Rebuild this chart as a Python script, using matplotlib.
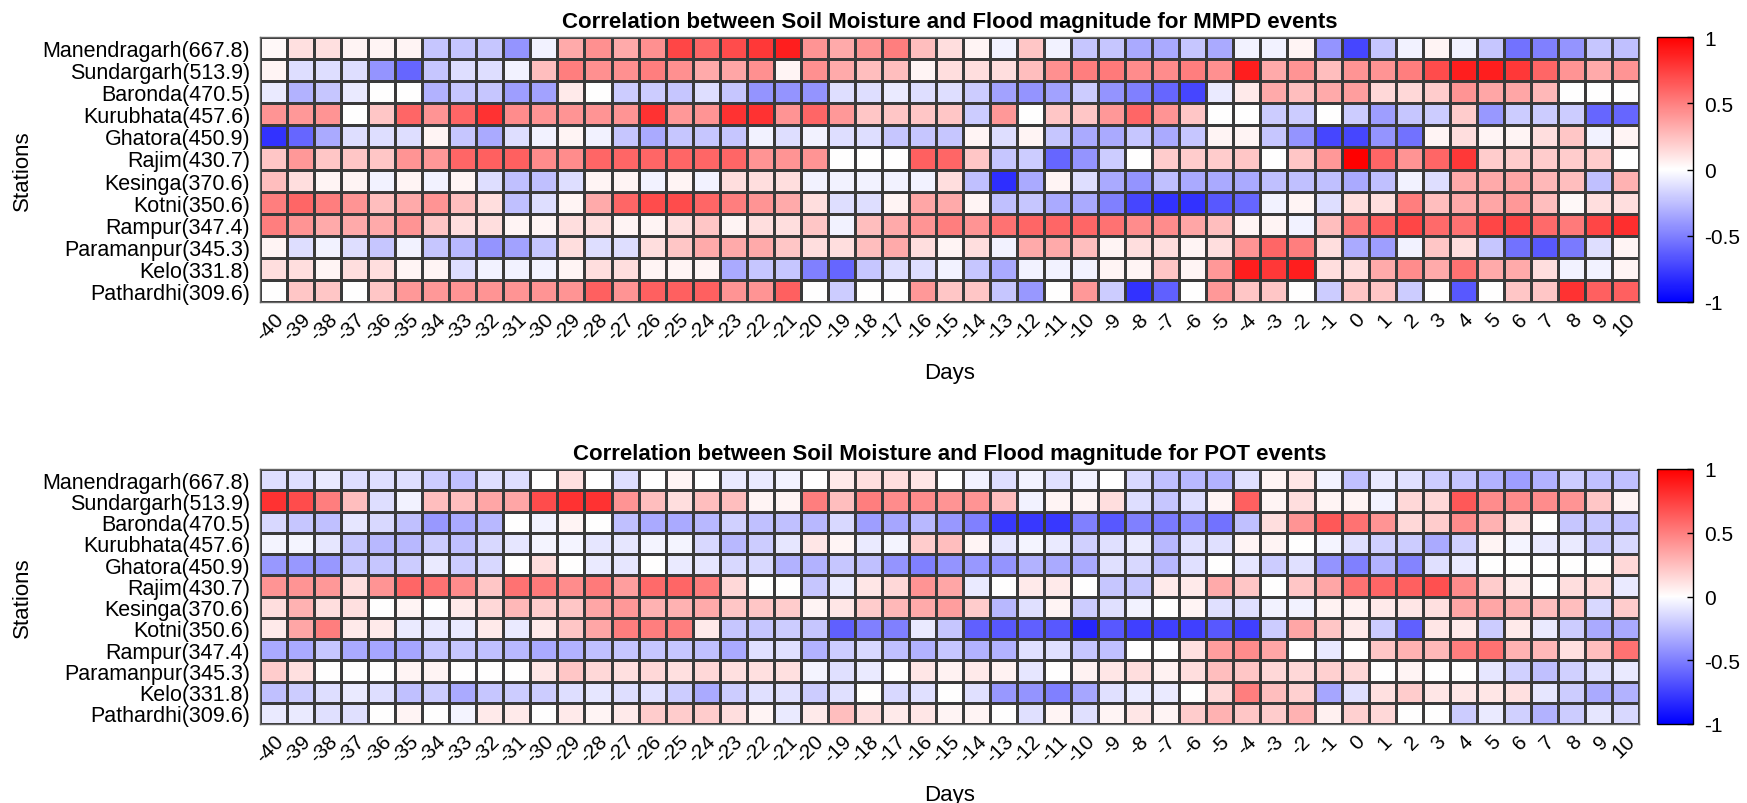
import numpy as np
import matplotlib
matplotlib.use("Agg")
import matplotlib.pyplot as plt

plt.rcParams['font.family'] = ['Liberation Sans', 'DejaVu Sans']

stations = ["Manendragarh(667.8)", "Sundargarh(513.9)", "Baronda(470.5)", "Kurubhata(457.6)",
            "Ghatora(450.9)", "Rajim(430.7)", "Kesinga(370.6)", "Kotni(350.6)",
            "Rampur(347.4)", "Paramanpur(345.3)", "Kelo(331.8)", "Pathardhi(309.6)"]
days = list(range(-40, 11))

# ---- MMPD events (columns: day -40 ... 10) ----
mmpd_manendragarh = [0.03, 0.12, 0.12, 0.04, 0.04, 0.04, -0.22, -0.22, -0.22, -0.42, -0.05, 0.33, 0.43, 0.33, 0.43,
                     0.72, 0.6, 0.7, 0.78, 0.88, 0.42, 0.33, 0.42, 0.5, 0.25, 0.13, 0.04, -0.05, 0.22, -0.05,
                     -0.22, -0.22, -0.33, -0.33, -0.22, -0.33, -0.05, -0.05, 0.04, -0.42, -0.72,
                     -0.22, -0.05, 0.04, -0.05, -0.22, -0.55, -0.5, -0.42, -0.22, -0.25]
mmpd_sundargarh = [0.04, -0.13, -0.13, -0.13, -0.42, -0.6, -0.22, -0.13, -0.13, -0.05, 0.25, 0.5, 0.43, 0.43, 0.5,
                   0.43, 0.33, 0.35, 0.43, 0.04, 0.43, 0.33, 0.25, 0.25, 0.04, 0.13, 0.13, 0.13, 0.25, 0.43,
                   0.5, 0.52, 0.45, 0.45, 0.5, 0.43, 0.88, 0.33, 0.42, 0.25, 0.42,
                   0.42, 0.5, 0.7, 0.88, 0.88, 0.78, 0.6, 0.42, 0.33, 0.42]
mmpd_baronda = [-0.08, -0.3, -0.22, -0.08, 0, 0, -0.3, -0.22, -0.22, -0.38, -0.36, 0.08, 0, -0.2, -0.2,
                -0.22, -0.13, -0.22, -0.42, -0.42, -0.42, -0.13, -0.13, -0.08, -0.13, -0.13, -0.2, -0.36, -0.42, -0.36,
                -0.2, -0.42, -0.5, -0.6, -0.72, -0.08, 0.08, 0.33, 0.25, 0.33, 0.38,
                0.15, 0.15, 0.2, 0.42, 0.35, 0.35, 0.28, 0, 0, 0]
mmpd_kurubhata = [0.42, 0.4, 0.42, 0, 0.22, 0.6, 0.42, 0.6, 0.8, 0.45, 0.42, 0.42, 0.42, 0.42, 0.8,
                  0.4, 0.42, 0.8, 0.8, 0.42, 0.6, 0.4, 0.22, 0.22, 0.22, 0.22, -0.2, 0.4, 0, 0.22,
                  0.22, 0.4, 0.6, 0.42, 0.22, 0, 0, -0.2, -0.2, 0, -0.2,
                  -0.38, -0.22, -0.2, 0.2, -0.4, -0.2, -0.2, -0.2, -0.6, -0.6]
mmpd_ghatora = [-0.8, -0.6, -0.33, -0.13, -0.13, -0.13, 0.04, -0.22, -0.33, -0.13, -0.05, 0.04, -0.05, -0.22, -0.33,
                -0.22, -0.22, -0.22, -0.05, -0.13, -0.05, -0.13, -0.13, -0.22, -0.22, -0.22, 0.04, -0.13, 0.04, -0.22,
                -0.33, -0.33, -0.22, -0.33, -0.22, 0.04, 0.04, -0.22, -0.42, -0.72, -0.72,
                -0.42, -0.55, 0.04, 0.13, 0.04, 0.04, 0.13, 0.22, -0.05, 0.04]
mmpd_rajim = [0.22, 0.4, 0.22, 0.22, 0.22, 0.42, 0.4, 0.6, 0.62, 0.62, 0.45, 0.45, 0.6, 0.6, 0.6,
              0.6, 0.6, 0.6, 0.42, 0.42, 0.42, 0, 0, 0, 0.62, 0.6, 0.22, -0.22, -0.2, -0.6,
              -0.42, -0.2, 0, 0.2, 0.2, 0.2, 0.22, 0, 0.22, 0.4, 1.0,
              0.6, 0.42, 0.6, 0.78, 0.2, 0.2, 0.2, 0.2, 0.2, 0]
mmpd_kesinga = [0.25, 0.13, 0.04, 0.04, -0.05, 0.04, -0.05, 0.04, -0.13, -0.25, -0.25, -0.13, 0.04, 0.04, -0.05,
                0.04, -0.05, 0.13, 0.13, 0.13, -0.05, -0.05, -0.05, -0.05, -0.05, 0.13, -0.25, -0.82, -0.33, 0.04,
                -0.13, -0.33, -0.42, -0.25, -0.33, -0.33, -0.33, -0.25, -0.25, -0.25, -0.33,
                -0.25, -0.05, -0.13, 0.33, 0.33, 0.35, 0.28, 0.25, -0.25, 0.3]
mmpd_kotni = [0.5, 0.6, 0.5, 0.42, 0.25, 0.33, 0.42, 0.25, 0.13, -0.25, -0.13, 0.04, 0.33, 0.6, 0.7,
              0.7, 0.6, 0.5, 0.42, 0.33, 0.13, -0.13, -0.13, 0.04, 0.35, 0.33, 0.04, -0.25, -0.22, -0.33,
              -0.33, -0.5, -0.72, -0.8, -0.8, -0.65, -0.6, -0.05, 0.04, -0.13, 0.13,
              0.13, 0.5, 0.25, 0.33, 0.35, 0.4, 0.25, 0.03, 0.13, 0.13]
mmpd_rampur = [0.5, 0.42, 0.33, 0.33, 0.33, 0.42, 0.22, 0.13, 0.13, 0.04, 0.04, 0.13, 0.13, 0.04, 0.04,
               0.13, 0.22, 0.04, 0.13, 0.13, 0.22, -0.05, 0.25, 0.33, 0.42, 0.5, 0.42, 0.55, 0.6, 0.6,
               0.6, 0.55, 0.45, 0.45, 0.35, 0.25, 0.04, 0.04, -0.05, 0.25, 0.52,
               0.62, 0.72, 0.58, 0.55, 0.72, 0.72, 0.58, 0.52, 0.72, 0.82]
mmpd_paramanpur = [0.04, -0.13, -0.05, -0.13, -0.22, -0.05, -0.22, -0.28, -0.42, -0.36, -0.22, 0.13, -0.13, -0.13, 0.13,
                   0.22, 0.33, 0.33, 0.33, 0.22, 0.13, 0.13, 0.25, 0.33, 0.13, 0.04, 0.13, -0.05, 0.33, 0.33,
                   0.25, 0.04, 0.13, 0.13, 0.04, 0.13, 0.42, 0.6, 0.5, 0.13, -0.33,
                   -0.38, -0.05, 0.22, 0.13, -0.22, -0.55, -0.65, -0.52, -0.13, 0.04]
mmpd_kelo = [0.13, 0.13, 0.04, 0.13, 0.13, 0.04, 0.04, -0.13, -0.05, -0.05, -0.05, 0.04, 0.13, 0.13, 0.04,
             0.04, 0.04, -0.33, -0.22, -0.22, -0.5, -0.6, -0.22, -0.13, -0.13, -0.05, -0.22, -0.33, -0.05, -0.05,
             -0.05, 0.04, 0.04, 0.22, 0.04, 0.4, 0.88, 0.78, 0.88, 0.13, 0.13,
             0.33, 0.45, 0.33, 0.55, 0.33, 0.33, 0.13, -0.05, -0.05, 0.04]
mmpd_pathardhi = [0, 0.22, 0.22, 0, 0.22, 0.4, 0.4, 0.42, 0.42, 0.42, 0.42, 0.42, 0.62, 0.42, 0.62,
                  0.62, 0.62, 0.42, 0.42, 0.62, 0, -0.2, 0, 0, 0.4, 0.22, 0.22, -0.22, -0.4, 0,
                  0.4, -0.2, -0.8, -0.62, 0, 0.4, 0.22, 0.22, 0, -0.2, 0.22,
                  0.22, -0.2, 0, -0.65, 0, 0.22, 0.22, 0.8, 0.62, 0.62]

# ---- POT events (columns: day -40 ... 10) ----
pot_manendragarh = [-0.13, -0.13, -0.08, -0.13, -0.13, -0.13, -0.2, -0.25, -0.13, -0.13, 0, 0.12, 0, -0.13, 0,
                    0.04, 0, -0.08, -0.08, -0.05, 0, 0.08, 0.13, 0.13, 0.1, 0, -0.05, -0.13, -0.05, -0.12,
                    -0.05, 0, -0.15, -0.25, -0.28, -0.3, -0.12, 0.04, 0.1, -0.05, -0.25,
                    -0.08, -0.12, -0.2, -0.22, -0.3, -0.38, -0.3, -0.2, -0.25, -0.25]
pot_sundargarh = [0.8, 0.7, 0.5, 0.25, -0.13, -0.05, 0.25, 0.25, 0.35, 0.35, 0.7, 0.8, 0.8, 0.42, 0.25,
                  0.13, 0.25, 0.25, 0.04, 0.04, 0.5, 0.25, 0.5, 0.45, 0.45, 0.42, 0.42, 0.25, -0.05, 0.04,
                  0.04, 0.13, -0.13, -0.22, -0.13, 0.04, 0.62, 0.04, 0.13, 0.04, 0.04,
                  -0.05, 0.15, 0.15, 0.65, 0.45, 0.45, 0.45, 0.42, 0.22, 0.04]
pot_baronda = [-0.15, -0.22, -0.25, -0.1, -0.15, -0.25, -0.4, -0.33, -0.28, 0, -0.05, 0.04, 0, -0.25, -0.33,
               -0.33, -0.28, -0.18, -0.25, -0.25, -0.28, -0.15, -0.38, -0.35, -0.28, -0.4, -0.5, -0.78, -0.78, -0.78,
               -0.5, -0.65, -0.5, -0.52, -0.45, -0.55, -0.25, 0.13, 0.42, 0.65, 0.55,
               0.42, 0.15, 0.2, 0.45, 0.3, 0.12, 0, -0.22, -0.22, -0.25]
pot_kurubhata = [-0.04, -0.04, -0.1, -0.22, -0.28, -0.28, -0.2, -0.25, -0.15, -0.1, -0.04, -0.04, -0.1, -0.1, -0.04,
                 -0.04, -0.15, -0.28, -0.2, -0.1, 0.1, 0.04, -0.08, -0.04, 0.2, 0.25, 0.04, -0.1, -0.04, -0.08,
                 -0.18, -0.12, -0.08, -0.28, -0.12, -0.12, 0.04, 0.04, 0, -0.04, -0.12,
                 -0.18, -0.2, -0.33, -0.18, 0.04, -0.04, -0.08, -0.08, -0.2, -0.15]
pot_ghatora = [-0.4, -0.4, -0.4, -0.22, -0.22, -0.2, -0.08, -0.2, -0.15, 0, 0.13, 0, -0.08, -0.1, 0,
               -0.08, -0.1, -0.15, -0.15, -0.3, -0.3, -0.22, -0.25, -0.42, -0.5, -0.42, -0.4, -0.42, -0.3, -0.33,
               -0.33, -0.12, -0.15, -0.28, -0.12, 0, -0.1, -0.2, -0.12, -0.42, -0.5,
               -0.3, -0.48, -0.12, -0.08, 0, 0, 0, 0, 0, 0.15]
pot_rajim = [0.42, 0.42, 0.4, 0.13, 0.42, 0.6, 0.55, 0.45, 0.22, 0.55, 0.52, 0.45, 0.52, 0.38, 0.58,
             0.6, 0.5, 0.15, 0, 0, -0.22, -0.08, 0.1, 0.15, 0.42, 0.35, -0.08, 0, 0.08, 0.08,
             0, -0.22, -0.22, 0.08, 0.08, 0.33, 0.22, 0, 0.22, 0.35, 0.55,
             0.6, 0.62, 0.68, 0.45, 0.2, 0.08, 0, 0.13, 0.15, -0.08]
pot_kesinga = [0.13, 0.3, 0.13, 0.12, 0, 0.04, 0, 0.08, 0.15, 0.28, 0.2, 0.22, 0.35, 0.4, 0.3,
               0.3, 0.33, 0.22, 0.22, 0.2, 0.04, 0.1, 0.2, 0.28, 0.33, 0.38, 0.2, -0.28, -0.12, 0.04,
               -0.2, -0.12, -0.05, 0, 0.04, -0.12, -0.12, -0.05, -0.05, 0.05, 0.05,
               0.08, 0.1, 0.12, 0.35, 0.35, 0.3, 0.25, 0.25, -0.15, 0.2]
pot_kotni = [0.08, 0.35, 0.5, 0.08, 0.08, -0.08, -0.08, -0.08, 0.08, -0.08, 0.08, 0.22, 0.35, 0.5, 0.5,
             0.5, 0.08, -0.22, -0.22, -0.2, -0.22, -0.62, -0.5, -0.5, -0.08, -0.22, -0.62, -0.65, -0.62, -0.65,
             -0.85, -0.65, -0.75, -0.75, -0.75, -0.65, -0.75, -0.2, 0.35, 0.22, 0.08,
             -0.2, -0.62, 0.1, 0.08, -0.2, 0.08, -0.08, -0.2, -0.33, -0.33]
pot_rampur = [-0.33, -0.33, -0.22, -0.33, -0.35, -0.35, -0.22, -0.22, -0.25, -0.28, -0.33, -0.3, -0.25, -0.22, -0.22,
              -0.22, -0.25, -0.33, -0.12, -0.12, -0.3, -0.2, -0.15, -0.25, -0.3, -0.22, -0.3, -0.3, -0.12, -0.12,
              -0.22, -0.25, 0, 0, 0.12, 0.38, 0.45, 0.35, 0, -0.08, 0,
              0.22, 0.3, 0.28, 0.5, 0.55, 0.3, 0.28, 0.12, 0.25, 0.55]
pot_paramanpur = [0.2, 0.12, 0, 0, 0, 0.04, 0.04, 0, 0, 0, 0.1, 0.22, 0.15, 0.12, 0.15,
                  0.12, 0.15, 0.12, 0.12, 0.12, -0.04, -0.12, -0.08, 0, 0.1, 0.05, 0.08, 0.05, -0.1, 0,
                  0.05, 0.1, 0.13, 0.05, 0.13, 0.25, 0.22, 0.15, 0.15, 0.18, 0.15,
                  0, 0.04, 0, 0, -0.1, -0.18, -0.25, -0.18, -0.12, -0.08]
pot_kelo = [-0.25, -0.2, -0.13, -0.08, -0.13, -0.25, -0.2, -0.33, -0.22, -0.2, -0.2, -0.13, -0.1, -0.13, -0.12,
            -0.2, -0.33, -0.2, -0.12, -0.12, -0.2, -0.12, 0, -0.15, -0.12, 0, -0.12, -0.4, -0.42, -0.5,
            -0.35, -0.12, -0.08, -0.08, 0, 0.15, 0.5, 0.25, 0.18, -0.35, -0.12,
            0.12, 0.2, 0.1, 0.1, 0.1, 0.12, -0.1, -0.2, -0.33, -0.3]
pot_pathardhi = [-0.08, -0.08, -0.12, -0.12, 0, 0.04, 0, -0.04, 0.08, 0.08, 0, 0.08, 0.04, 0.08, 0.2,
                 0.2, 0.2, 0.13, 0.04, -0.08, 0.08, 0.25, 0.13, 0.08, 0.1, 0.04, 0.04, 0, -0.12, 0.04,
                 -0.12, 0.04, 0.1, 0.04, 0.2, 0.3, 0.22, 0.2, 0.3, 0.06, 0.18,
                 0.15, 0, 0, -0.2, -0.08, -0.18, -0.3, -0.2, -0.1, -0.15]

mmpd = np.array([mmpd_manendragarh, mmpd_sundargarh, mmpd_baronda, mmpd_kurubhata, mmpd_ghatora,
                 mmpd_rajim, mmpd_kesinga, mmpd_kotni, mmpd_rampur, mmpd_paramanpur, mmpd_kelo,
                 mmpd_pathardhi])
pot = np.array([pot_manendragarh, pot_sundargarh, pot_baronda, pot_kurubhata, pot_ghatora,
                pot_rajim, pot_kesinga, pot_kotni, pot_rampur, pot_paramanpur, pot_kelo,
                pot_pathardhi])

titles = ["Correlation between Soil Moisture and Flood magnitude for MMPD events",
          "Correlation between Soil Moisture and Flood magnitude for POT events"]

W, H = 1747, 804
fig = plt.figure(figsize=(W / 100, H / 100), dpi=100)

def fx(px):
    return px / W

def fy(py):
    return 1 - py / H

panels = [(mmpd, titles[0], 38, 303), (pot, titles[1], 470, 725)]
cmap = plt.get_cmap('bwr')

for data, title, top, bot in panels:
    ax = fig.add_axes([fx(260), fy(bot), fx(1639) - fx(260), fy(top) - fy(bot)])
    nrow, ncol = data.shape
    xe = np.arange(ncol + 1) - 0.5
    ye = np.arange(nrow + 1) - 0.5
    mesh = ax.pcolormesh(xe, ye, data, cmap=cmap, vmin=-1, vmax=1,
                         edgecolors='#3a3a3a', linewidth=0.8)
    ax.set_xlim(-0.5, ncol - 0.5)
    ax.set_ylim(nrow - 0.5, -0.5)
    ax.set_xticks(np.arange(ncol))
    ax.set_xticklabels([str(d) for d in days], rotation=45, ha='right', va='top',
                       rotation_mode='anchor', fontsize=15)
    ax.set_yticks(np.arange(nrow))
    ax.set_yticklabels(stations, fontsize=15.5)
    ax.tick_params(axis='both', length=0)
    ax.tick_params(axis='x', pad=5)
    ax.tick_params(axis='y', pad=7)
    for s in ax.spines.values():
        s.set_color('#666666')
        s.set_linewidth(1.0)
    ax.set_title(title, fontsize=16, fontweight='bold', pad=7)
    ax.set_xlabel("Days", fontsize=16, labelpad=13)
    ax.set_ylabel("Stations", fontsize=16, labelpad=7)

    cax = fig.add_axes([fx(1657), fy(bot), fx(1693) - fx(1657), fy(top) - fy(bot)])
    cb = fig.colorbar(mesh, cax=cax, ticks=[-1, -0.5, 0, 0.5, 1])
    cb.ax.set_yticklabels(['-1', '-0.5', '0', '0.5', '1'])
    cb.ax.tick_params(labelsize=15, direction='in', length=4, width=1, pad=8)
    cb.outline.set_edgecolor('black')
    cb.outline.set_linewidth(1.0)

fig.savefig("out.png", dpi=100)
